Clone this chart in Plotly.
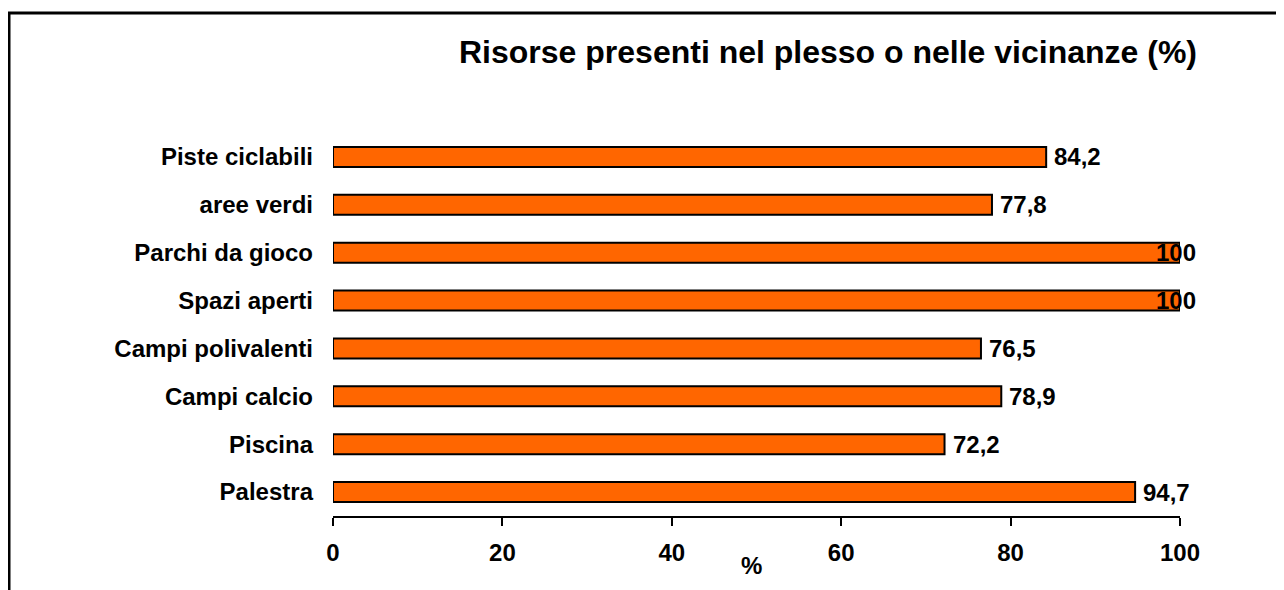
import plotly.graph_objects as go

categories = ["Palestra", "Piscina", "Campi calcio", "Campi polivalenti",
              "Spazi aperti", "Parchi da gioco", "aree verdi", "Piste ciclabili"]
values = [94.7, 72.2, 78.9, 76.5, 100, 100, 77.8, 84.2]
value_labels = ["94,7", "72,2", "78,9", "76,5", "100", "100", "77,8", "84,2"]
tick_vals = [0, 20, 40, 60, 80, 100]

FONT = "Liberation Sans, Arial, sans-serif"
FS = 24

fig = go.Figure()
fig.add_trace(go.Bar(
    x=values, y=categories, orientation="h",
    marker=dict(color="#FF6600", line=dict(color="black", width=2)),
    width=0.42, hoverinfo="skip",
))

annotations = []
for cat, v, lab in zip(categories, values, value_labels):
    if v >= 100:
        annotations.append(dict(x=v, y=cat, text="<b>%s</b>" % lab, showarrow=False,
                                xanchor="right", xshift=18, font=dict(family=FONT, size=FS, color="black")))
    else:
        annotations.append(dict(x=v, y=cat, text="<b>%s</b>" % lab, showarrow=False,
                                xanchor="left", xshift=6, font=dict(family=FONT, size=FS, color="black")))

L, R, T, B = 325, 112, 125, 82
plot_w = 1284 - L - R
plot_h = 590 - T - B

annotations.append(dict(text="<b>Risorse presenti nel plesso o nelle vicinanze (%)</b>",
                        xref="paper", yref="paper", x=(820 - L) / plot_w, y=1.0, yshift=81,
                        xanchor="center", yanchor="middle", showarrow=False,
                        font=dict(family=FONT, size=32, color="black")))
annotations.append(dict(text="<b>%</b>", xref="paper", yref="paper", x=(743 - L) / plot_w, y=0,
                        yshift=-49, xanchor="center", yanchor="middle", showarrow=False,
                        font=dict(family=FONT, size=FS, color="black")))

fig.update_layout(
    width=1284, height=590,
    margin=dict(l=L, r=R, t=T, b=B),
    paper_bgcolor="white", plot_bgcolor="white",
    showlegend=False,
    font=dict(family=FONT, size=FS, color="black"),
    xaxis=dict(range=[0, 100], tickvals=tick_vals, ticktext=["<b>%d</b>" % t for t in tick_vals],
               showgrid=False, zeroline=False, showline=True, linecolor="black", linewidth=2,
               ticks="outside", ticklen=8, tickwidth=2, tickcolor="black",
               tickfont=dict(family=FONT, size=FS, color="black"), ticklabelstandoff=6),
    yaxis=dict(categoryorder="array", categoryarray=categories,
               ticktext=["<b>%s</b>" % c for c in categories], tickvals=categories,
               showgrid=False, zeroline=False, showline=False, ticks="",
               ticklabelstandoff=19,
               tickfont=dict(family=FONT, size=FS, color="black")),
    annotations=annotations,
    shapes=[dict(type="rect", xref="paper", yref="paper",
                 x0=(1 - L) / plot_w, x1=(1300 - L) / plot_w,
                 y0=-100 / plot_h, y1=(590 - B - 5) / plot_h,
                 line=dict(color="black", width=3), fillcolor="rgba(0,0,0,0)",
                 layer="below")],
)

fig.write_html("out.html")
